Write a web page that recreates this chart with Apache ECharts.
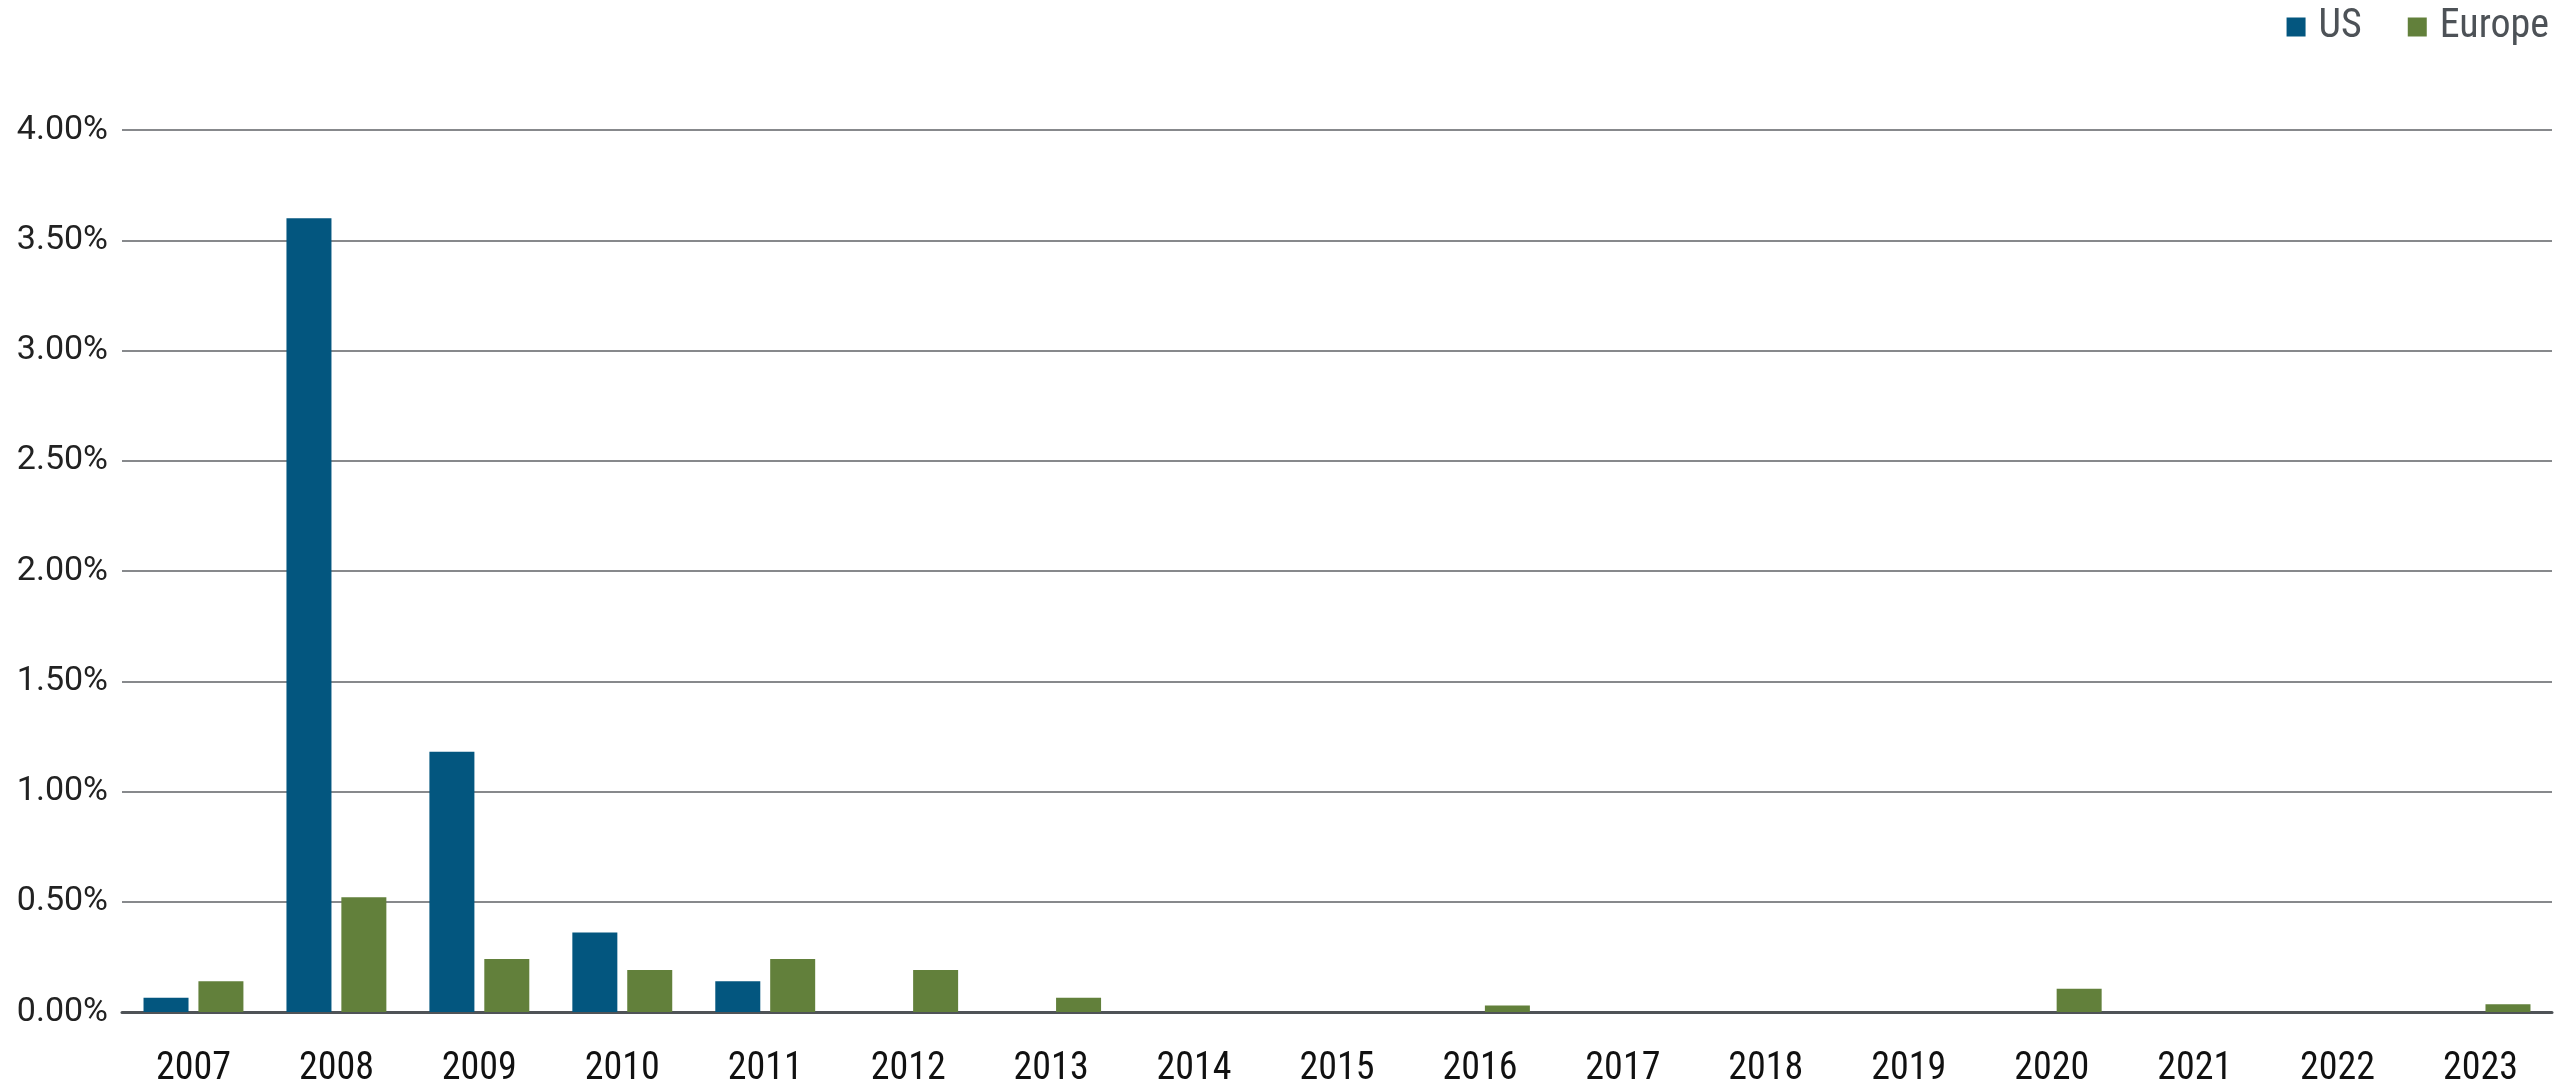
<!DOCTYPE html>
<html>
<head>
<meta charset="utf-8">
<script src="https://cdn.jsdelivr.net/npm/echarts@6/dist/echarts.min.js"></script>
<style>
html,body{margin:0;padding:0;background:#fff;}
#chart{width:2560px;height:1090px;}
</style>
</head>
<body>
<div id="chart"></div>
<script>
var years = ['2007','2008','2009','2010','2011','2012','2013','2014','2015','2016','2017','2018','2019','2020','2021','2022','2023'];
var usValues = [0.065, 3.60, 1.18, 0.36, 0.14, 0, 0, 0, 0, 0, 0, 0, 0, 0, 0, 0, 0];
var europeValues = [0.14, 0.52, 0.24, 0.19, 0.24, 0.19, 0.065, 0, 0, 0.03, 0, 0, 0, 0.105, 0, 0, 0.035];
var yTicks = {min: 0, max: 4, interval: 0.5};

var condensed = "'Roboto Condensed', 'Liberation Sans Narrow', 'DejaVu Sans Condensed', 'Arial Narrow', sans-serif";

var chart = echarts.init(document.getElementById('chart'), null, {renderer: 'canvas'});
chart.setOption({
  animation: false,
  backgroundColor: '#ffffff',
  legend: {
    top: 2,
    right: 6,
    itemWidth: 19,
    itemHeight: 19,
    itemGap: 46,
    icon: 'rect',
    textStyle: {fontFamily: condensed, fontSize: 40, color: '#4d5257', padding: [0,0,0,8]},
    data: ['US', 'Europe']
  },
  grid: {left: 122, right: 8, top: 130, bottom: 78, containLabel: false},
  xAxis: {
    type: 'category',
    data: years,
    axisTick: {show: false},
    axisLine: {show: true, lineStyle: {color: '#4f5357', width: 3}},
    axisLabel: {fontFamily: condensed, fontSize: 38, color: '#111', margin: 38}
  },
  yAxis: {
    type: 'value',
    min: yTicks.min,
    max: yTicks.max,
    interval: yTicks.interval,
    axisLine: {show: false},
    axisTick: {show: false},
    splitLine: {lineStyle: {color: '#5f6266', width: 1.5}},
    axisLabel: {
      fontFamily: "Roboto, 'Liberation Sans', sans-serif",
      fontSize: 34,
      color: '#222',
      margin: 14,
      formatter: function (v) { return v.toFixed(2) + '%'; }
    }
  },
  series: [
    {name: 'US', type: 'bar', data: usValues, barWidth: 45, barGap: '22%', itemStyle: {color: '#03567f'}},
    {name: 'Europe', type: 'bar', data: europeValues, barWidth: 45, itemStyle: {color: '#62803b'}}
  ]
});
</script>
</body>
</html>
